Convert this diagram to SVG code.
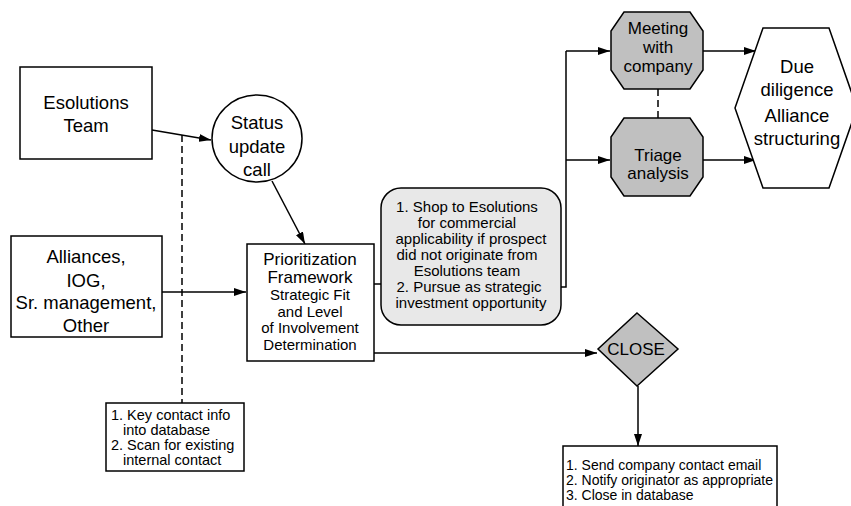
<svg xmlns="http://www.w3.org/2000/svg" width="851" height="506" viewBox="0 0 851 506">
<defs>
<marker id="ah" viewBox="0 0 12 8" refX="12" refY="4" markerWidth="12" markerHeight="8" markerUnits="userSpaceOnUse" orient="auto">
<path d="M0,0 L12,4 L0,8 z" fill="#000"/>
</marker>
<style>
.s{fill:#fff;stroke:#000;stroke-width:1.5}
.g{fill:#c0c0c0;stroke:#000;stroke-width:1.5}
.lg{fill:#e8e8e8;stroke:#000;stroke-width:1.5}
.c{fill:none;stroke:#000;stroke-width:1.5}
.d{fill:none;stroke:#000;stroke-width:1.5;stroke-dasharray:7,4}
text{font-family:"Liberation Sans",Arial,sans-serif;fill:#000}
.t18{font-size:18.5px;text-anchor:middle}
.t17{font-size:17px;text-anchor:middle}
.t15{font-size:15px;text-anchor:middle}
.t14{font-size:14.5px}
.t13{font-size:14px}
</style>
</defs>
<rect width="851" height="506" fill="#fff"/>
<g id="connectors">
<line class="c" x1="152" y1="130" x2="211" y2="140" marker-end="url(#ah)"/>
<line class="d" x1="182" y1="135" x2="182" y2="403"/>
<line class="c" x1="272" y1="181" x2="305" y2="244" marker-end="url(#ah)"/>
<line class="c" x1="162" y1="292" x2="246" y2="292" marker-end="url(#ah)"/>
<line class="c" x1="374" y1="284" x2="381" y2="284"/>
<polyline class="c" points="561,287 566,287 566,51"/>
<line class="c" x1="566" y1="51" x2="610" y2="51" marker-end="url(#ah)"/>
<line class="c" x1="566" y1="160" x2="610" y2="160" marker-end="url(#ah)"/>
<line class="d" x1="658" y1="89" x2="658" y2="118"/>
<line class="c" x1="703" y1="51" x2="756" y2="51" marker-end="url(#ah)"/>
<line class="c" x1="703" y1="160" x2="756" y2="160" marker-end="url(#ah)"/>
<line class="c" x1="374" y1="353" x2="597" y2="353" marker-end="url(#ah)"/>
<line class="c" x1="638" y1="386" x2="638" y2="446" marker-end="url(#ah)"/>
</g>
<g id="esolutions">
<rect class="s" x="20" y="67" width="132" height="92"/>
<text class="t18" x="86" y="109">Esolutions</text>
<text class="t18" x="86" y="132">Team</text>
</g>
<g id="status">
<ellipse class="s" cx="257" cy="138.5" rx="45" ry="43.5"/>
<text class="t18" x="257" y="129">Status</text>
<text class="t18" x="257" y="153">update</text>
<text class="t18" x="257" y="176">call</text>
</g>
<g id="alliances">
<rect class="s" x="11" y="236" width="151" height="101"/>
<text class="t18" x="86" y="263">Alliances,</text>
<text class="t18" x="86" y="287">IOG,</text>
<text class="t18" x="86" y="309">Sr. management,</text>
<text class="t18" x="86" y="332">Other</text>
</g>
<g id="prioritization">
<rect class="s" x="247" y="244" width="127" height="117"/>
<text class="t17" x="310" y="265">Prioritization</text>
<text class="t17" x="310" y="283">Framework</text>
<text class="t15" x="310" y="300">Strategic Fit</text>
<text class="t15" x="310" y="317">and Level</text>
<text class="t15" x="310" y="333">of Involvement</text>
<text class="t15" x="310" y="350">Determination</text>
</g>
<g id="keycontact">
<rect class="s" x="106" y="403" width="138" height="68"/>
<text class="t14" x="111" y="420">1. Key contact info</text>
<text class="t14" x="123" y="435">into database</text>
<text class="t14" x="111" y="450">2. Scan for existing</text>
<text class="t14" x="123" y="465">internal contact</text>
</g>
<g id="shop">
<rect class="lg" x="381" y="188" width="180" height="137" rx="20" ry="20"/>
<text class="t15" x="467" y="212">1. Shop to Esolutions</text>
<text class="t15" x="467" y="228">for commercial</text>
<text class="t15" x="471" y="244">applicability if prospect</text>
<text class="t15" x="467" y="260">did not originate from</text>
<text class="t15" x="467" y="276">Esolutions team</text>
<text class="t15" x="469" y="292">2. Pursue as strategic</text>
<text class="t15" x="471" y="308">investment opportunity</text>
</g>
<g id="meeting">
<polygon class="g" points="624,12 690,12 703,31 703,70 690,89 624,89 611,70 611,31"/>
<text class="t17" x="658" y="34">Meeting</text>
<text class="t17" x="658" y="53">with</text>
<text class="t17" x="658" y="72">company</text>
</g>
<g id="triage">
<polygon class="g" points="624,118 690,118 703,137 703,177 690,196 624,196 611,177 611,137"/>
<text class="t17" x="658" y="161">Triage</text>
<text class="t17" x="658" y="179">analysis</text>
</g>
<g id="duediligence">
<polygon class="s" points="763,28 829,28 857,108 829,188 763,188 735,108"/>
<text class="t18" x="797" y="73">Due</text>
<text class="t18" x="797" y="96">diligence</text>
<text class="t18" x="797" y="122">Alliance</text>
<text class="t18" x="797" y="145">structuring</text>
</g>
<g id="close">
<polygon class="g" points="637,313 678,349 637,386 598,349"/>
<text class="t17" x="636" y="355">CLOSE</text>
</g>
<g id="closesteps">
<polyline class="s" points="563,510 563,446 777,446 777,510"/>
<text class="t13" x="566" y="470">1. Send company contact email</text>
<text class="t13" x="566" y="485">2. Notify originator as appropriate</text>
<text class="t13" x="566" y="500">3. Close in database</text>
</g>
</svg>
